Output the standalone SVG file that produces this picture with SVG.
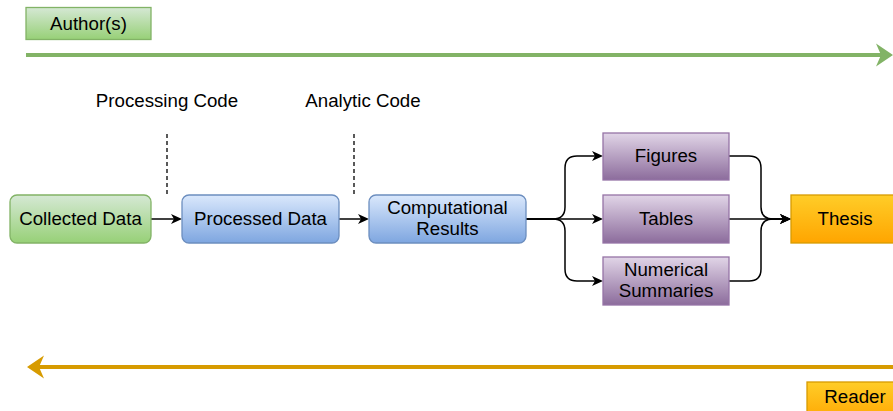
<svg xmlns="http://www.w3.org/2000/svg" width="893" height="411" viewBox="0 0 893 411">
  <style>
    text { font-family: "Liberation Sans", Arial, sans-serif; font-size: 18.7px; fill: #000; text-anchor: middle; }
    .green { fill: url(#gGreen); stroke: #82b366; stroke-width: 1.3; }
    .blue { fill: url(#gBlue); stroke: #6c8ebf; stroke-width: 1.3; }
    .purple { fill: url(#gPurple); stroke: #9673a6; stroke-width: 1.3; }
    .orange { fill: url(#gOrange); stroke: #d79b00; stroke-width: 1.3; }
    .edge { fill: none; stroke: #000; stroke-width: 1.5; marker-end: url(#arrow); }
    .dash { fill: none; stroke: #000; stroke-width: 1.3; stroke-dasharray: 4 3; }
  </style>
  <defs>
    <linearGradient id="gGreen" x1="0" y1="0" x2="0" y2="1">
      <stop offset="0" stop-color="#d5e8d4"/>
      <stop offset="1" stop-color="#97d077"/>
    </linearGradient>
    <linearGradient id="gBlue" x1="0" y1="0" x2="0" y2="1">
      <stop offset="0" stop-color="#dae8fc"/>
      <stop offset="1" stop-color="#7ea6e0"/>
    </linearGradient>
    <linearGradient id="gPurple" x1="0" y1="0" x2="0" y2="1">
      <stop offset="0" stop-color="#e1d5e7"/>
      <stop offset="1" stop-color="#8c6c9c"/>
    </linearGradient>
    <linearGradient id="gOrange" x1="0" y1="0" x2="0" y2="1">
      <stop offset="0" stop-color="#ffcd28"/>
      <stop offset="1" stop-color="#ffa500"/>
    </linearGradient>
    <marker id="arrow" markerUnits="userSpaceOnUse" markerWidth="12" markerHeight="11" refX="3" refY="5" orient="auto" overflow="visible">
      <path d="M0,0 L11,5 L0,10 L3,5 Z" fill="#000"/>
    </marker>
    <marker id="arrowGreen" markerUnits="userSpaceOnUse" markerWidth="18" markerHeight="24" refX="5" refY="11.5" orient="auto" overflow="visible">
      <path d="M0,0 L17,11.5 L0,23 L5,11.5 Z" fill="#82b366"/>
    </marker>
    <marker id="arrowOrange" markerUnits="userSpaceOnUse" markerWidth="18" markerHeight="24" refX="5" refY="11.5" orient="auto" overflow="visible">
      <path d="M0,0 L17,11.5 L0,23 L5,11.5 Z" fill="#d79b00"/>
    </marker>
  </defs>

  <!-- role bars -->
  <g id="author">
    <rect class="green" x="26" y="7.5" width="125" height="32"/>
    <text x="88.5" y="30">Author(s)</text>
  </g>
  <g id="reader">
    <rect class="orange" x="807" y="382" width="100" height="40"/>
    <text x="855" y="403">Reader</text>
  </g>

  <g id="connectors">
    <!-- timelines -->
    <path d="M26,55 H881" fill="none" stroke="#82b366" stroke-width="4" marker-end="url(#arrowGreen)"/>
    <path d="M900,367 H39" fill="none" stroke="#d79b00" stroke-width="4" marker-end="url(#arrowOrange)"/>
    <!-- code boundaries -->
    <path class="dash" d="M167,134 V195"/>
    <path class="dash" d="M354,134 V195"/>
    <!-- pipeline -->
    <path class="edge" d="M151,219 H174"/>
    <path class="edge" d="M339,219 H361"/>
    <path class="edge" d="M526,219 H553 Q565,219 565,207 V168 Q565,156 577,156 H595"/>
    <path class="edge" d="M526,219 H595"/>
    <path class="edge" d="M526,219 H553 Q565,219 565,231 V269 Q565,281 577,281 H595"/>
    <path class="edge" d="M729,156 H749 Q761,156 761,168 V207 Q761,219 773,219 H783"/>
    <path class="edge" d="M729,219 H783"/>
    <path class="edge" d="M729,281 H749 Q761,281 761,269 V231 Q761,219 773,219 H783"/>
  </g>

  <!-- code labels -->
  <g id="processing-code">
    <text x="167" y="107">Processing Code</text>
  </g>
  <g id="analytic-code">
    <text x="363" y="107">Analytic Code</text>
  </g>

  <!-- data nodes -->
  <g id="collected-data">
    <rect class="green" x="10" y="195" width="141" height="48" rx="7"/>
    <text x="80.5" y="225">Collected Data</text>
  </g>
  <g id="processed-data">
    <rect class="blue" x="182" y="195" width="157" height="48" rx="7"/>
    <text x="260.5" y="225">Processed Data</text>
  </g>
  <g id="computational-results">
    <rect class="blue" x="369" y="195" width="157" height="48" rx="7"/>
    <text x="447.5" y="213.5">Computational</text>
    <text x="447.5" y="234.5">Results</text>
  </g>
  <g id="figures">
    <rect class="purple" x="603" y="133" width="126" height="47"/>
    <text x="666" y="162">Figures</text>
  </g>
  <g id="tables">
    <rect class="purple" x="603" y="195" width="126" height="48"/>
    <text x="666" y="225">Tables</text>
  </g>
  <g id="numerical-summaries">
    <rect class="purple" x="603" y="257" width="126" height="48"/>
    <text x="666" y="275.5">Numerical</text>
    <text x="666" y="296.5">Summaries</text>
  </g>
  <g id="thesis">
    <rect class="orange" x="791" y="195" width="110" height="48"/>
    <text x="845" y="225">Thesis</text>
  </g>
</svg>
